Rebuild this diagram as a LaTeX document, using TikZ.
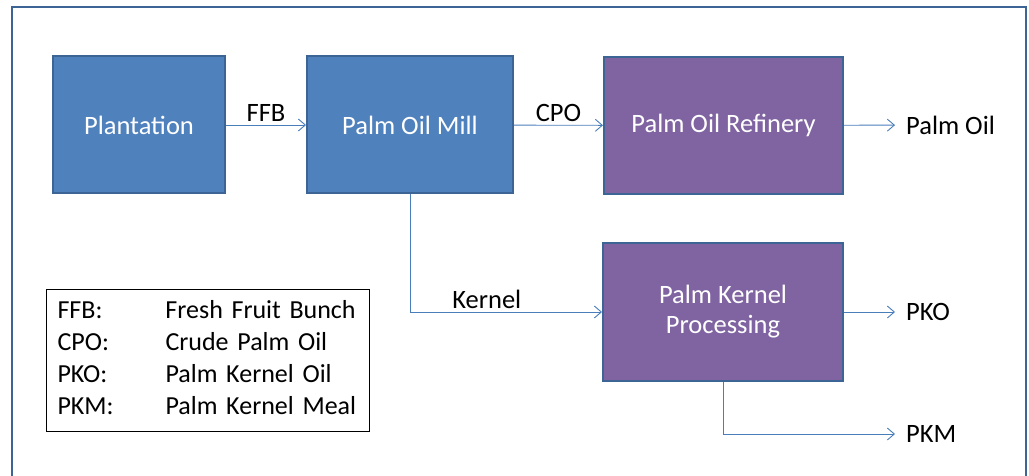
\documentclass[tikz,border=0pt]{standalone}
\usepackage{fontspec}
\setmainfont{Carlito}
\usetikzlibrary{arrows.meta}
\definecolor{millblue}{HTML}{4F81BD}
\definecolor{plantpurple}{HTML}{8064A2}
\definecolor{edgeblue}{HTML}{3C6494}
\definecolor{flowblue}{HTML}{4A7EBB}
\begin{document}
\begin{tikzpicture}[x=1pt,y=-1pt,
  stage/.style={draw=edgeblue,line width=2pt,text=white,minimum height=137pt,
    inner sep=0pt,align=center,font=\fontsize{26.5}{30}\selectfont},
  flow/.style={flowblue,line width=0.9pt,-{Straight Barb[length=7pt,width=12pt]}},
  lbl/.style={text=black,inner sep=3pt,font=\fontsize{26.5}{30}\selectfont},
  product/.style={lbl,anchor=west,inner xsep=11pt}]
  \useasboundingbox (0,0) rectangle (1029,476);
  \draw[edgeblue,line width=2pt] (12,477) -- (12,7) -- (1026,7) -- (1026,477);
  % process stages
  \node[stage,fill=millblue,minimum width=172pt] (plant) at (139,125) {Plantation};
  \node[stage,fill=millblue,minimum width=206pt] (mill) at (410,125) {Palm Oil Mill};
  \node[stage,fill=plantpurple,minimum width=239pt] (refinery) at (723.5,125.5) {Palm Oil Refinery};
  \node[stage,fill=plantpurple,minimum width=240pt,minimum height=138pt] (kproc) at (723,312)
    {Palm Kernel\\Processing};
  % products
  \node[product] (palmoil) at (895,125) {Palm Oil};
  \node[product] (pko) at (895,312) {PKO};
  \node[product] (pkm) at (895,434) {PKM};
  % flows
  \draw[flow] (plant) -- node[lbl,above] {FFB} (mill);
  \draw[flow] (mill) -- node[lbl,above] {CPO} (refinery);
  \draw[flow] (refinery) -- (palmoil);
  \draw[flow] (mill.south) |- node[lbl,above,pos=0.7] {Kernel} (kproc.west);
  \draw[flow] (kproc) -- (pko);
  \draw[flow] (kproc.south) |- (pkm.west);
  % legend
  \node[draw=black,line width=1pt,anchor=north west,minimum width=323pt,minimum height=142pt,
    text width=301pt,inner xsep=11pt,inner ysep=0pt,font=\fontsize{26}{32}\selectfont] (legend) at (46,289)
    {\begin{tabular}{@{}p{108pt}@{}l@{}}
      FFB: & Fresh Fruit Bunch\\
      CPO: & Crude Palm Oil\\
      PKO: & Palm Kernel Oil\\
      PKM: & Palm Kernel Meal
    \end{tabular}};
\end{tikzpicture}
\end{document}
